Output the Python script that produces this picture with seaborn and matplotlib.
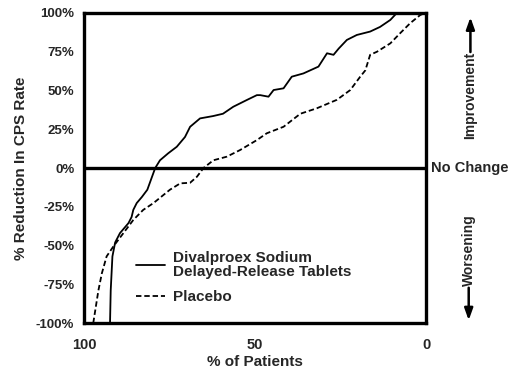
import numpy as np
import pandas as pd
import matplotlib
matplotlib.use("Agg")
import matplotlib.pyplot as plt
import seaborn as sns

# curve values (x = % of patients, y = % reduction)
div_pct = [92.4, 92.2, 91.7, 90.9, 89.5, 87.0, 86.1, 85.6, 84.6, 83.1, 81.5,
           79.2, 77.8, 75.4, 72.9, 70.5, 69.0, 66.1, 62.3, 59.4, 56.4, 52.4,
           49.5, 48.5, 46.1, 44.6, 41.7, 39.3, 35.9, 31.5, 29.0, 27.1, 25.6,
           23.2, 20.3, 16.4, 13.5, 10.5, 8.6]
div_red = [-100, -79, -57, -48, -42, -35.5, -31.6, -27, -22.6, -18.7, -14,
           0, 5, 9.5, 13.7, 20, 26.6, 32, 33.5, 35, 39.5, 43.9,
           47, 47, 46, 50.3, 51.4, 58.9, 61, 65.4, 74, 73, 77,
           82.6, 85.8, 88, 91, 95.5, 100]

plac_pct = [97.3, 95.8, 94.8, 93.4, 91.4, 88.5, 85.6, 82.7, 79.7, 74.9, 71.9,
            69.0, 67.0, 65.1, 62.2, 58.3, 54.4, 49.5, 46.6, 41.7, 36.8, 32.0,
            26.1, 22.2, 19.3, 17.8, 16.4, 14.4, 10.5, 7.6, 4.7, 1.75, 0.3]
plac_red = [-100, -79, -68, -57, -50.5, -42, -33.5, -27, -22.6, -14, -9.9,
            -9.5, -5.6, 0, 5, 7.3, 11.6, 18, 22.4, 26.6, 35, 38.5,
            44, 50.3, 58.9, 63, 73, 75, 80.4, 87, 93.4, 98.7, 100]

y_ticks = [-100, -75, -50, -25, 0, 25, 50, 75, 100]
y_tick_labels = ["-100%", "-75%", "-50%", "-25%", "0%", "25%", "50%", "75%", "100%"]
x_ticks = [100, 50, 0]
x_tick_labels = ["100", "50", "0"]

div_label = "Divalproex Sodium\nDelayed-Release Tablets"
plac_label = "Placebo"

div_df = pd.DataFrame({"pct": div_pct, "red": div_red})
plac_df = pd.DataFrame({"pct": plac_pct, "red": plac_red})

sns.set_style("white")
plt.rcParams["font.family"] = ["Liberation Sans", "DejaVu Sans"]
plt.rcParams["font.weight"] = "bold"

fig = plt.figure(figsize=(5.17, 3.81), dpi=100)
ax = fig.add_axes([0.1625, 0.152, 0.662, 0.814])

sns.lineplot(data=div_df, x="pct", y="red", sort=False, estimator=None,
             color="black", lw=1.3, label=div_label, ax=ax)
sns.lineplot(data=plac_df, x="pct", y="red", sort=False, estimator=None,
             color="black", lw=1.3, label=plac_label, ax=ax)
ax.lines[1].set_dashes((3, 1.6))

ax.axhline(0, color="black", lw=2.4)

ax.set_xlim(100, 0)
ax.set_ylim(-100, 100)
ax.set_xticks(x_ticks)
ax.set_xticklabels(x_tick_labels, fontsize=10.5, fontweight="bold")
ax.set_xticks(np.arange(0, 101, 10), minor=True)
ax.set_yticks(y_ticks)
ax.set_yticklabels(y_tick_labels, fontsize=9.5, fontweight="bold")
ax.tick_params(axis="both", which="both", direction="out", width=2, length=4,
               color="black", pad=3)
ax.tick_params(axis="x", which="major", pad=7)
for s in ax.spines.values():
    s.set_linewidth(2.4)
    s.set_color("black")

ax.set_xlabel("% of Patients", fontsize=11, fontweight="bold", labelpad=2)
ax.set_ylabel("% Reduction In CPS Rate", fontsize=11, fontweight="bold", labelpad=6)

leg = ax.legend(loc="upper left", bbox_to_anchor=(0.13, 0.258), frameon=False,
                fontsize=11, handlelength=1.9, handletextpad=0.5,
                labelspacing=0.75, borderpad=0)
for t in leg.get_texts():
    t.set_fontweight("bold")
    t.set_linespacing(1.0)

ax.text(1.015, 0.5, "No Change", transform=ax.transAxes, ha="left", va="center",
        fontsize=10.5, fontweight="bold")
ax.text(1.129, 0.735, "Improvement", transform=ax.transAxes, rotation=90,
        ha="center", va="center", fontsize=10, fontweight="bold")
ax.annotate("", xy=(1.129, 0.995), xytext=(1.129, 0.865), xycoords="axes fraction",
            arrowprops=dict(arrowstyle="-|>,head_width=0.25,head_length=0.7",
                            color="black", lw=1.8))
ax.text(1.124, 0.235, "Worsening", transform=ax.transAxes, rotation=90,
        ha="center", va="center", fontsize=10, fontweight="bold")
ax.annotate("", xy=(1.124, 0.0), xytext=(1.124, 0.123), xycoords="axes fraction",
            arrowprops=dict(arrowstyle="-|>,head_width=0.25,head_length=0.7",
                            color="black", lw=1.8))

fig.savefig("out.png", dpi=100)
